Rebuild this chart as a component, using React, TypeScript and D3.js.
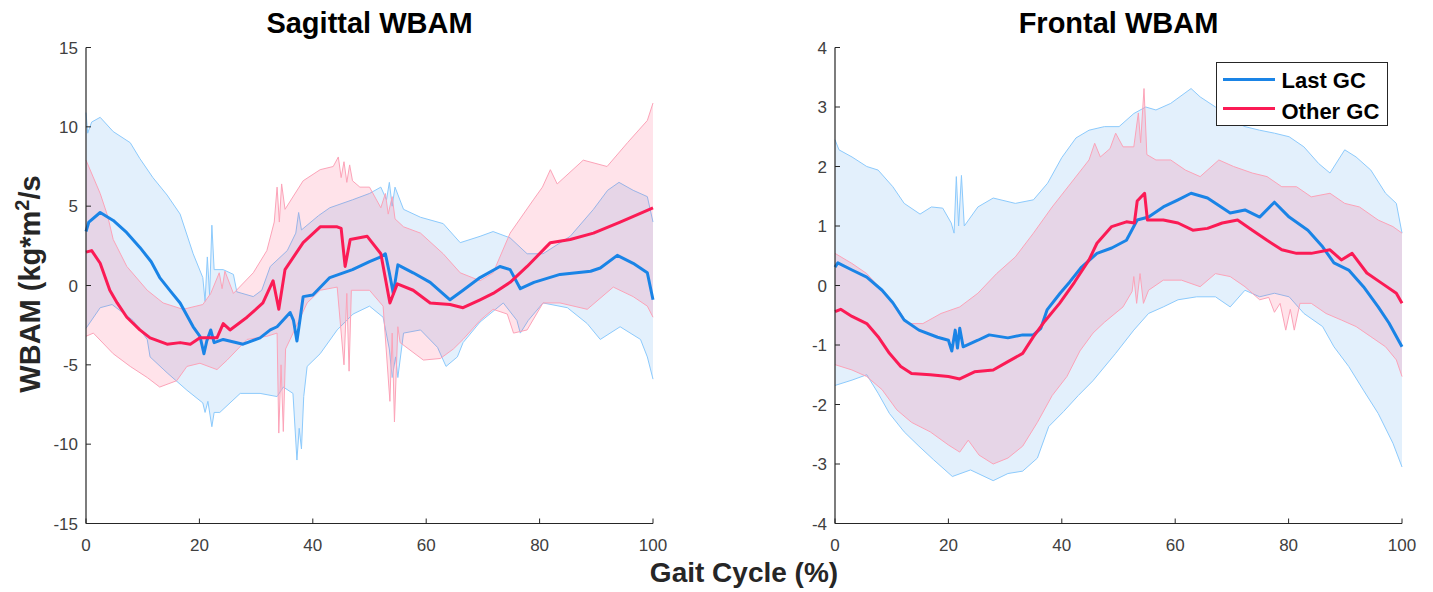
import React from 'react';
import * as d3 from 'd3';

type Pt = [number, number];

// ---------- axes / labels ----------
const GC_TICKS = [0, 20, 40, 60, 80, 100];
const SAG_TICKS = [-15, -10, -5, 0, 5, 10, 15];
const FRO_TICKS = [-4, -3, -2, -1, 0, 1, 2, 3, 4];
const SERIES_NAMES = ['Last GC', 'Other GC'];
const TITLES = ['Sagittal WBAM', 'Frontal WBAM'];

// ---------- Sagittal WBAM ----------
const sagLastMean: Pt[] = [[0,3.4],[0.5,4.0],[2.5,4.6],[4.8,4.1],[7,3.4],[9.5,2.4],[11.5,1.5],[13,0.5],[15,-0.4],[16.6,-1.1],[18.9,-2.6],[20.1,-3.2],[20.8,-4.3],[21.3,-3.5],[22,-2.8],[22.6,-3.6],[24.2,-3.4],[27.7,-3.7],[30.7,-3.3],[32.5,-2.8],[33.7,-2.6],[36,-1.7],[36.6,-2.2],[37.2,-3.5],[37.8,-2.0],[38.3,-0.7],[40,-0.6],[43,0.5],[47,1.0],[50,1.5],[52,1.8],[52.8,2.0],[53.5,0.8],[54.2,-0.5],[55,1.3],[57.7,0.8],[60.7,0.2],[64.2,-0.9],[66.5,-0.3],[69.5,0.5],[73,1.2],[74.8,1.0],[76.6,-0.2],[79,0.2],[83.6,0.7],[89,0.9],[90.7,1.1],[93.7,1.9],[96.5,1.4],[99,0.8],[100,-0.9]];
const sagLastUpper: Pt[] = [[0,10.9],[0.3,9.6],[1,10.3],[2.5,10.6],[4.8,9.7],[7.8,9.0],[9.5,8.0],[11.8,6.8],[14.3,5.7],[16.6,4.5],[18.9,2.0],[20.6,0.5],[21,-1.0],[21.4,1.8],[21.8,-0.6],[22.2,3.8],[22.6,1.0],[24.2,1.0],[26,0.7],[26.6,-0.4],[29.5,-0.7],[31,-0.3],[32.5,1.2],[35.5,2.2],[37,3.3],[37.5,4.6],[38,3.5],[41,4.4],[43,4.9],[47,5.4],[50,5.8],[52,6.2],[53,5.4],[53.5,6.5],[54,5.0],[54.5,6.2],[56,4.8],[59,4.3],[63,3.9],[66,2.7],[69.5,3.1],[71.8,3.4],[74.8,3.0],[77.8,2.0],[80.6,2.0],[85.4,3.1],[89.5,4.8],[92,6.0],[94,6.5],[96.5,6.0],[99,5.6],[100,4.0]];
const sagLastLower: Pt[] = [[0,-2.7],[2.5,-1.4],[4.6,-1.2],[8.3,-2.2],[10.8,-3.4],[11.3,-4.5],[14.3,-5.5],[17.8,-6.6],[20.6,-7.4],[21,-8.0],[21.5,-7.3],[22.2,-8.9],[22.6,-8.0],[23.6,-8.0],[27.2,-6.8],[30.7,-6.8],[33.7,-7.0],[34.8,-6.4],[36.5,-6.8],[37.2,-11.0],[37.6,-9.0],[38,-10.3],[38.4,-7.0],[39,-5.1],[41.3,-4.3],[44.3,-2.8],[47.1,-1.8],[50,-1.3],[52.4,-2.0],[53.5,-4.0],[54,-5.8],[54.6,-4.5],[55,-5.8],[56,-3.0],[59,-2.8],[62,-3.9],[63.5,-5.1],[65.5,-4.5],[66.5,-3.6],[69.5,-2.3],[73.6,-1.1],[76,-2.2],[76.6,-3.0],[78,-2.2],[80.6,-1.1],[84.9,-1.4],[88.4,-2.4],[90.7,-3.4],[94.2,-2.6],[97.8,-3.4],[99,-4.5],[100,-5.9]];
const sagOtherMean: Pt[] = [[0,2.1],[1,2.2],[2.5,1.4],[4.2,-0.3],[5.5,-1.1],[7.2,-2.0],[9.5,-2.8],[11.3,-3.3],[14.3,-3.7],[16.6,-3.6],[18.4,-3.7],[20.1,-3.3],[23.1,-3.3],[24.2,-2.4],[25.4,-2.8],[28.4,-2.0],[31.2,-1.1],[33,0.3],[34,-1.5],[35.1,1.0],[38.3,2.7],[41.3,3.7],[44.3,3.7],[45,3.6],[45.7,1.2],[46.6,2.9],[49.6,3.1],[52,2.0],[53.6,-1.1],[54.9,0.1],[57.7,-0.3],[60.7,-1.1],[64.2,-1.2],[66.5,-1.4],[69.5,-0.9],[71.8,-0.5],[74.8,0.2],[77.8,1.2],[81.9,2.7],[85.4,2.9],[89.5,3.3],[94.2,4.0],[100,4.9]];
const sagOtherUpper: Pt[] = [[0,7.9],[2.5,5.8],[3.8,4.4],[4.8,2.9],[7.2,1.2],[10.8,-0.3],[13.6,-1.1],[17.1,-1.5],[20.6,-1.2],[22,-0.5],[23.5,0.8],[24,-0.2],[24.5,0.9],[26,-0.5],[29.5,0.8],[31.9,2.2],[33.2,4.0],[33.7,6.2],[34.1,4.0],[34.5,6.4],[35.1,4.8],[38.3,6.6],[41.3,7.3],[43.6,7.5],[44.5,8.1],[45,6.8],[45.5,7.8],[46,6.5],[46.5,7.6],[47,6.6],[48.3,6.2],[50,6.2],[52,4.9],[52.8,5.8],[53.3,4.5],[54,5.6],[54.5,4.2],[56,3.7],[59,3.3],[63,2.0],[66,0.8],[69.5,0.3],[71.8,0.8],[74.8,3.3],[78.9,5.4],[80.5,6.2],[81.9,7.3],[83.1,6.4],[87.7,7.9],[91.9,7.5],[95.5,9.0],[99,10.4],[100,11.5]];
const sagOtherLower: Pt[] = [[0,-3.2],[1.3,-3.0],[4.8,-4.3],[7.8,-5.1],[10.8,-5.8],[13,-6.4],[16,-6.0],[17.8,-5.1],[20.1,-4.9],[23.1,-5.3],[24.9,-4.7],[28.4,-3.4],[31.9,-3.2],[33.7,-3.0],[34,-9.3],[34.4,-5.0],[34.8,-9.2],[35.2,-4.0],[36,-3.4],[39,-1.1],[41.3,-0.3],[44.3,-0.1],[45.5,-5.0],[46,-0.5],[46.4,-5.4],[46.8,-0.3],[50,-0.3],[52.4,-1.3],[53.6,-7.3],[54,-3.0],[54.4,-8.6],[55,-2.6],[55.4,-3.6],[59.5,-4.7],[62.5,-4.6],[64.8,-4.0],[66.5,-3.4],[69.5,-2.2],[71.8,-1.5],[74.3,-1.8],[75.4,-3.0],[77.8,-2.8],[80.6,-1.1],[83.6,-1.1],[88.4,-1.5],[93,-0.1],[96.5,-0.7],[99,-1.3],[100,-2.0]];

// ---------- Frontal WBAM ----------
const froLastMean: Pt[] = [[0,0.31],[0.5,0.38],[3,0.26],[5.6,0.14],[8.3,-0.08],[10.2,-0.29],[12.2,-0.58],[14.8,-0.75],[18.1,-0.87],[20,-0.92],[20.6,-1.1],[21.2,-0.75],[21.6,-1.05],[22,-0.72],[22.6,-1.03],[25.2,-0.92],[27.2,-0.83],[30.5,-0.88],[33.1,-0.83],[35,-0.83],[36.3,-0.72],[37.4,-0.41],[39.7,-0.13],[41.4,0.06],[43.5,0.31],[46.2,0.54],[48.8,0.63],[51.4,0.76],[53.3,1.10],[55.3,1.15],[57.9,1.32],[60.5,1.44],[62.8,1.55],[65.7,1.47],[69.7,1.22],[72.3,1.27],[74.9,1.15],[77.5,1.40],[80.1,1.15],[83.4,0.93],[86,0.65],[88,0.38],[90.6,0.26],[93.2,-0.02],[95.8,-0.36],[97.7,-0.63],[100,-1.03]];
const froLastUpper: Pt[] = [[0,2.45],[0.7,2.28],[3,2.16],[5.6,2.0],[7.6,1.94],[10.2,1.66],[12.2,1.38],[15,1.2],[17,1.32],[19,1.3],[20.5,1.05],[21,0.88],[21.4,1.83],[21.8,1.0],[22.3,1.85],[22.8,1.0],[25.2,1.32],[27.9,1.47],[31.8,1.38],[35,1.44],[37.5,1.72],[40,2.15],[42.5,2.48],[44.8,2.61],[47.5,2.67],[50.1,2.67],[52.7,2.89],[54.8,3.0],[56.6,2.95],[59.2,3.06],[62.8,3.31],[64.4,3.17],[67.1,3.0],[69.7,2.78],[72.3,2.67],[74.9,2.61],[77.5,2.56],[80.1,2.50],[82.7,2.33],[85.3,2.05],[87.3,1.89],[89.9,2.28],[91.9,2.16],[94.5,1.94],[97.1,1.55],[99,1.38],[100,0.88]];
const froLastLower: Pt[] = [[0,-1.68],[3,-1.59],[5.6,-1.5],[7.6,-1.81],[9.6,-2.15],[12.2,-2.46],[14.8,-2.7],[17.4,-2.93],[20.7,-3.21],[23.9,-3.10],[27.9,-3.28],[30.5,-3.16],[33.1,-3.12],[35.7,-2.9],[37.7,-2.37],[40.3,-2.12],[42.9,-1.85],[45.5,-1.6],[49.5,-1.14],[52.7,-0.75],[55.3,-0.47],[57.9,-0.36],[60.5,-0.24],[63.8,-0.19],[67.1,-0.19],[69.7,-0.36],[72.3,-0.08],[74.9,-0.19],[77.5,-0.13],[80.1,-0.19],[82.7,-0.47],[86,-0.69],[88,-1.03],[90.6,-1.36],[93.2,-1.76],[95.8,-2.15],[98.4,-2.65],[100,-3.05]];
const froOtherMean: Pt[] = [[0,-0.44],[1,-0.4],[3,-0.52],[5.6,-0.64],[7.6,-0.86],[9.6,-1.14],[11.6,-1.36],[13.5,-1.48],[16.8,-1.50],[20,-1.53],[22,-1.57],[24.6,-1.45],[27.9,-1.42],[30.5,-1.28],[33.1,-1.14],[35,-0.86],[37,-0.6],[39.6,-0.3],[42.2,0.05],[44.8,0.43],[46.2,0.71],[48.8,0.99],[51.4,1.07],[52.8,1.05],[53.3,1.42],[54.6,1.55],[55.1,1.10],[57.9,1.10],[60.5,1.05],[63.1,0.93],[65.7,0.96],[68.3,1.05],[71,1.10],[73.6,0.93],[76.2,0.76],[78.8,0.60],[81.4,0.54],[84,0.54],[87.3,0.60],[89.3,0.43],[91.2,0.54],[93.8,0.21],[96.4,0.04],[99,-0.13],[100,-0.30]];
const froOtherUpper: Pt[] = [[0,0.54],[3,0.37],[5.6,0.20],[8.3,-0.08],[10.9,-0.36],[12.8,-0.64],[15.5,-0.64],[18.7,-0.47],[22,-0.36],[25.2,-0.13],[28.5,0.20],[31.8,0.48],[35,0.88],[38.3,1.32],[41.6,1.72],[44.8,2.11],[45.8,2.39],[46.8,2.16],[48.5,2.3],[49.5,2.56],[50.8,2.33],[52.7,2.33],[53.5,2.9],[53.9,2.4],[54.5,3.31],[55,2.2],[56.6,2.11],[59.2,2.11],[61.8,1.94],[64.4,1.83],[67.7,2.11],[70.3,2.0],[73.6,1.89],[76.2,1.83],[78.8,1.66],[81.4,1.66],[84,1.49],[87.3,1.55],[89.9,1.38],[92.5,1.32],[95.8,1.10],[98.4,0.99],[100,0.88]];
const froOtherLower: Pt[] = [[0,-1.33],[3,-1.42],[5.6,-1.53],[8.3,-1.75],[10.9,-2.09],[13.5,-2.3],[16.8,-2.46],[20,-2.68],[22,-2.8],[23.5,-2.60],[25.4,-2.85],[27.9,-3.0],[30.5,-2.9],[33.1,-2.7],[35.7,-2.3],[38.3,-1.85],[40.9,-1.53],[43.2,-1.1],[45.5,-0.8],[47.5,-0.62],[50.8,-0.36],[52.4,-0.1],[52.7,0.15],[53.2,-0.3],[53.8,0.2],[54.4,-0.3],[55.3,-0.08],[57.9,0.09],[61.1,0.09],[64.4,-0.02],[67.1,0.20],[69.7,0.15],[72.3,-0.02],[74.9,-0.24],[76.5,-0.2],[77.5,-0.45],[78.5,-0.3],[79.5,-0.75],[80.3,-0.4],[81,-0.75],[82,-0.3],[84,-0.30],[86.6,-0.47],[89.3,-0.58],[91.9,-0.69],[94.5,-0.86],[97.1,-1.03],[99,-1.25],[100,-1.53]];

// ---------- styling ----------
const W = 1433;
const H = 592;
const PLOT_TOP = 47.5;
const PLOT_BOTTOM = 523.5;
const FONT = '"Liberation Sans", Arial, Helvetica, sans-serif';
const BLUE = '#1a84e6';
const RED = '#fb1b55';
const BLUE_EDGE = '#8ccafc';
const RED_EDGE = '#fca3b8';
const AXIS = '#262626';
const TICK_TXT = '#404040';

type Group = { mean: Pt[]; upper: Pt[]; lower: Pt[] };

function Panel(props: {
  left: number;
  right: number;
  domain: [number, number];
  ticks: number[];
  title: string;
  last: Group;
  other: Group;
}) {
  const { left, right, domain, ticks, title, last, other } = props;
  const x = d3.scaleLinear().domain([0, 100]).range([left, right]);
  const y = d3.scaleLinear().domain(domain).range([PLOT_BOTTOM, PLOT_TOP]);
  const line = d3.line<Pt>().x((d) => x(d[0])).y((d) => y(d[1]));
  const band = (u: Pt[], l: Pt[]) => (line([...u, ...l.slice().reverse()]) || '') + 'Z';

  return (
    <g>
      <path d={band(last.upper, last.lower)} fill={BLUE} fillOpacity={0.12} stroke="none" />
      <path d={line(last.upper) || ''} fill="none" stroke={BLUE_EDGE} strokeWidth={1} />
      <path d={line(last.lower) || ''} fill="none" stroke={BLUE_EDGE} strokeWidth={1} />
      <path d={band(other.upper, other.lower)} fill={RED} fillOpacity={0.12} stroke="none" />
      <path d={line(other.upper) || ''} fill="none" stroke={RED_EDGE} strokeWidth={1} />
      <path d={line(other.lower) || ''} fill="none" stroke={RED_EDGE} strokeWidth={1} />
      <path d={line(last.mean) || ''} fill="none" stroke={BLUE} strokeWidth={3} strokeLinejoin="round" />
      <path d={line(other.mean) || ''} fill="none" stroke={RED} strokeWidth={3} strokeLinejoin="round" />

      <line x1={left} x2={left} y1={PLOT_TOP} y2={PLOT_BOTTOM} stroke={AXIS} strokeWidth={1.2} />
      <line x1={left} x2={right} y1={PLOT_BOTTOM} y2={PLOT_BOTTOM} stroke={AXIS} strokeWidth={1.2} />
      {ticks.map((t) => (
        <g key={'y' + t}>
          <line x1={left} x2={left + 5} y1={y(t)} y2={y(t)} stroke={AXIS} strokeWidth={1} />
          <text x={left - 8} y={y(t)} dy="0.36em" textAnchor="end" fontSize={17} fill={TICK_TXT} fontFamily={FONT}>
            {t}
          </text>
        </g>
      ))}
      {GC_TICKS.map((t) => (
        <g key={'x' + t}>
          <line x1={x(t)} x2={x(t)} y1={PLOT_BOTTOM} y2={PLOT_BOTTOM - 5} stroke={AXIS} strokeWidth={1} />
          <text x={x(t)} y={551} textAnchor="middle" fontSize={17} fill={TICK_TXT} fontFamily={FONT}>
            {t}
          </text>
        </g>
      ))}
      <text x={(left + right) / 2} y={33} textAnchor="middle" fontSize={29} fontWeight="bold" fill="#000" fontFamily={FONT}>
        {title}
      </text>
    </g>
  );
}

export default function App() {
  const L = { left: 86, right: 653 };
  const R = { left: 835, right: 1402 };
  return (
    <svg width={W} height={H} style={{ position: 'absolute', left: 0, top: 0, background: '#fff' }}>
      <rect x={0} y={0} width={W} height={H} fill="#fff" />
      <Panel
        left={L.left}
        right={L.right}
        domain={[-15, 15]}
        ticks={SAG_TICKS}
        title={TITLES[0]}
        last={{ mean: sagLastMean, upper: sagLastUpper, lower: sagLastLower }}
        other={{ mean: sagOtherMean, upper: sagOtherUpper, lower: sagOtherLower }}
      />
      <Panel
        left={R.left}
        right={R.right}
        domain={[-4, 4]}
        ticks={FRO_TICKS}
        title={TITLES[1]}
        last={{ mean: froLastMean, upper: froLastUpper, lower: froLastLower }}
        other={{ mean: froOtherMean, upper: froOtherUpper, lower: froOtherLower }}
      />
      <text
        transform="translate(40,284) rotate(-90)"
        textAnchor="middle"
        fontSize={29}
        fontWeight="bold"
        fill="#262626"
        fontFamily={FONT}
      >
        WBAM (kg*m
        <tspan dy={-11} fontSize={20}>2</tspan>
        <tspan dy={11}>/s</tspan>
      </text>
      <text x={744} y={582} textAnchor="middle" fontSize={28} fontWeight="bold" fill="#262626" fontFamily={FONT}>
        Gait Cycle (%)
      </text>
      <g>
        <rect x={1216.5} y={62.5} width={171} height={63} fill="#fff" stroke={AXIS} strokeWidth={1} />
        {SERIES_NAMES.map((name, i) => (
          <g key={name}>
            <line x1={1223} x2={1275} y1={79.5 + i * 29} y2={79.5 + i * 29} stroke={i === 0 ? BLUE : RED} strokeWidth={3} />
            <text x={1281.5} y={88 + i * 30.5} fontSize={22} fontWeight="bold" fill="#000" fontFamily={FONT}>
              {name}
            </text>
          </g>
        ))}
      </g>
    </svg>
  );
}
